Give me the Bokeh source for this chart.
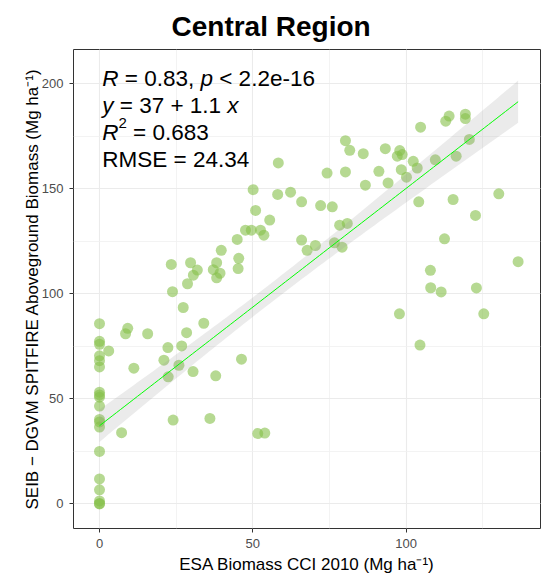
import numpy as np
from bokeh.plotting import figure
from bokeh.models import Range1d, SingleIntervalTicker, Label
from bokeh.embed import file_html
from bokeh.resources import INLINE

# ESA Biomass CCI 2010 (x) vs SEIB-DGVM SPITFIRE aboveground biomass (y), Mg/ha
esa_cci = [
    0, 0, 0, 0, 0, 0, 0, 0, 0, 0, 0, 0, 0, 0, 0, 0, 0, 0, 0,
    3.0, 7.2, 9.2, 8.5, 11.2, 15.7, 21.0, 22.3, 22.4, 24.0,
    23.4, 23.8, 26.8, 25.9, 27.3, 28.4, 28.7, 29.7, 30.5, 30.6,
    31.9, 34.0, 36.0, 37.9, 37.1, 38.2, 38.2, 39.3, 39.7, 46.3,
    44.9, 45.4, 45.2, 47.6, 49.5, 50.1, 50.9, 51.6, 52.5, 53.6,
    53.9, 55.5, 58.3, 58.1, 62.3, 65.9, 65.9, 67.7, 70.4, 72.1,
    74.2, 75.9, 76.6, 78.3, 79.1, 80.2, 80.2, 80.8, 81.6, 86.0,
    86.7, 91.1, 93.2, 94.1, 97.1, 97.9, 98.7, 98.4, 100.1, 97.8,
    102.3, 103.6, 104.1, 104.7, 104.5, 107.9, 108.0, 109.5, 111.4, 112.5,
    112.9, 114.0, 115.3, 116.3, 119.3, 119.3, 120.6, 122.6, 122.9, 125.3,
    130.2, 136.5,
]
seib_dgvm = [
    85.8, 77.4, 76.0, 70.5, 68.2, 65.2, 53.2, 51.9, 50.8, 46.6,
    40.2, 39.0, 36.6, 25.0, 11.9, 6.7, 1.4, 0.2, 0.0,
    72.8, 33.9, 83.6, 81.0, 64.6, 81.0, 68.4, 74.4, 60.5, 39.9,
    114.0, 101.0, 75.2, 66.0, 93.5, 81.5, 104.8, 114.8, 63.0, 108.9,
    111.3, 86.0, 40.7, 61.0, 111.5, 114.8, 107.6, 109.8, 120.7, 68.9,
    125.9, 116.9, 112.0, 130.3, 130.3, 149.6, 139.7, 33.5, 130.3, 127.9,
    33.7, 135.1, 162.3, 147.3, 148.4, 143.8, 125.6, 120.7, 123.0, 142.0,
    157.5, 141.4, 124.3, 132.7, 122.2, 172.9, 158.0, 133.5, 168.3, 166.7,
    151.7, 158.3, 169.1, 152.8, 165.5, 168.2, 166.3, 159.1, 155.5, 90.5,
    163.1, 159.9, 143.8, 179.3, 75.6, 111.2, 102.9, 163.8, 100.9, 126.2,
    182.2, 184.6, 144.9, 165.5, 185.5, 183.4, 173.5, 137.3, 102.8, 90.5,
    147.6, 115.3,
]

# reported regression: y = 37 + 1.1 x (unrounded coefficients), RMSE 24.34
fit_intercept = 37.2
fit_slope = 1.13
fit_rmse = 24.34

stat_lines = [
    [("R", "italic"), (" = 0.83, ", "normal"), ("p", "italic"), (" < 2.2e-16", "normal")],
    [("y", "italic"), (" = 37 + 1.1 ", "normal"), ("x", "italic")],
    [("R", "italic"), ("2", "sup"), (" = 0.683", "normal")],
    [("RMSE = 24.34", "normal")],
]

x = np.array(esa_cci, dtype=float)
y = np.array(seib_dgvm, dtype=float)

# fitted line with its 95% confidence band
n = len(x)
sxx = np.sum((x - x.mean()) ** 2)
xg = np.linspace(x.min(), x.max(), 100)
yg = fit_intercept + fit_slope * xg
se = fit_rmse * np.sqrt(1.0 / n + (xg - x.mean()) ** 2 / sxx)
t975 = 1.981
lower = yg - t975 * se
upper = yg + t975 * se

FONT = "Liberation Sans"

p = figure(
    width=542, height=582,
    x_range=Range1d(-8.48, 143.8), y_range=Range1d(-11.7, 216.3),
    output_backend="svg", toolbar_location=None,
    min_border_left=73, min_border_right=2, min_border_top=48, min_border_bottom=54,
    background_fill_color="white", border_fill_color="white",
    title="Central Region",
)
p.title.text_font = FONT
p.title.text_font_size = "28px"
p.title.text_font_style = "bold"
p.title.text_color = "black"
p.title.align = "left"
p.title.offset = 98
p.title.standoff = 16

p.outline_line_color = "#333333"
p.outline_line_width = 1

for ax in (p.xaxis[0], p.yaxis[0]):
    ax.ticker = SingleIntervalTicker(interval=50, num_minor_ticks=2)
    ax.axis_line_color = None
    ax.major_tick_line_color = "#333333"
    ax.major_tick_in = 0
    ax.major_tick_out = 4
    ax.minor_tick_line_color = None
    ax.major_label_text_font = FONT
    ax.major_label_text_font_size = "13px"
    ax.major_label_text_color = "#4D4D4D"
    ax.major_label_standoff = 6
    ax.axis_label_text_font = FONT
    ax.axis_label_text_font_size = "17px"
    ax.axis_label_text_font_style = "normal"
    ax.axis_label_text_color = "black"
    ax.axis_label_standoff = 4
p.yaxis[0].axis_label_standoff = -3

p.xaxis.axis_label = "ESA Biomass CCI 2010 (Mg ha\u207b\u00b9)"
p.yaxis.axis_label = "SEIB \u2212 DGVM SPITFIRE Aboveground Biomass (Mg ha\u207b\u00b9)"

for g in (p.xgrid[0], p.ygrid[0]):
    g.grid_line_color = "#EBEBEB"
    g.grid_line_width = 1.1
    g.minor_grid_line_color = "#F0F0F0"
    g.minor_grid_line_width = 0.8

p.scatter(x, y, size=11, fill_color="#86BF4A", fill_alpha=0.6, line_color=None)
p.varea(x=xg, y1=lower, y2=upper, fill_color="#999999", fill_alpha=0.2)
p.line(xg, yg, line_color="#00FF00", line_width=1)

# statistics block, built from pieces so that symbols can be italic
ARIAL_W = {" ": 278, "=": 584, ".": 278, ",": 278, "<": 584, "e": 556, "-": 333,
           "+": 584, "M": 833, "S": 667, "E": 667, "R": 722, "x": 500, "y": 500, "p": 556}
for d in "0123456789":
    ARIAL_W[d] = 556

def text_width(txt, size):
    return sum(ARIAL_W.get(c, 556) for c in txt) * size / 1000.0

fs = 22.5
sup_fs = 15.0
x0 = 0.9
baselines = [202.5, 189.7, 176.9, 164.1]
for pieces, yb in zip(stat_lines, baselines):
    off = 0.0
    for txt, style in pieces:
        size = sup_fs if style == "sup" else fs
        lead = len(txt) - len(txt.lstrip(" "))
        p.add_layout(Label(
            x=x0, y=yb, x_offset=off + text_width(" " * lead, size),
            y_offset=9 if style == "sup" else 0,
            text=txt.strip(" "), text_font=FONT, text_font_size=f"{size}px",
            text_font_style="italic" if style == "italic" else "normal",
            text_color="black", text_baseline="alphabetic", text_align="left",
        ))
        off += text_width(txt, size)

open("out.html", "w").write(file_html(p, INLINE))
